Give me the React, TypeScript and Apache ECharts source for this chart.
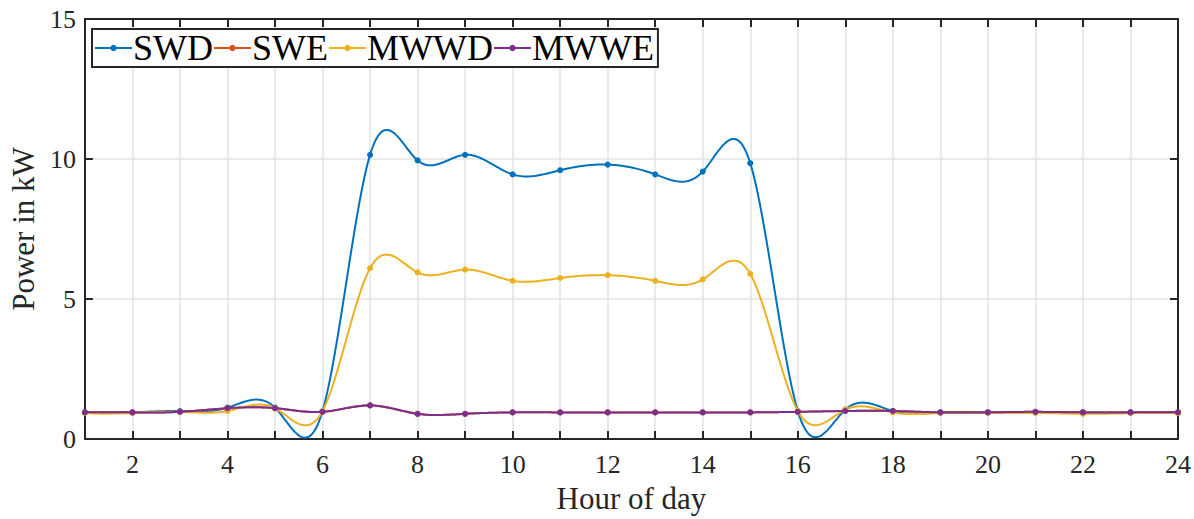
import React, { useEffect, useRef } from "react";
import * as echarts from "echarts";

const hours = [1, 2, 3, 4, 5, 6, 7, 8, 9, 10, 11, 12, 13, 14, 15, 16, 17, 18, 19, 20, 21, 22, 23, 24];
const swd = [0.95, 0.95, 1.0, 1.12, 1.12, 1.0, 10.15, 9.95, 10.15, 9.45, 9.6, 9.8, 9.45, 9.55, 9.85, 1.0, 1.05, 1.0, 0.95, 0.95, 0.95, 0.95, 0.95, 0.95];
const swe = [0.95, 0.95, 0.97, 1.1, 1.1, 0.97, 1.2, 0.9, 0.9, 0.95, 0.95, 0.95, 0.95, 0.95, 0.95, 0.97, 1.0, 1.0, 0.95, 0.95, 0.97, 0.95, 0.95, 0.95];
const mwwd = [0.93, 0.93, 0.97, 1.0, 1.1, 1.0, 6.1, 5.95, 6.05, 5.65, 5.75, 5.85, 5.65, 5.7, 5.9, 1.0, 1.05, 0.95, 0.93, 0.93, 0.93, 0.9, 0.92, 0.92];
const mwwe = [0.95, 0.95, 0.97, 1.1, 1.1, 0.97, 1.2, 0.9, 0.9, 0.95, 0.95, 0.95, 0.95, 0.95, 0.95, 0.97, 1.0, 1.0, 0.95, 0.95, 0.97, 0.95, 0.95, 0.95];
const seriesNames = ["SWD", "SWE", "MWWD", "MWWE"];
const seriesColors = ["#0072BD", "#D95319", "#EDB120", "#7E2F8E"];
const yTicks = [0, 5, 10, 15];

const FONT = "'Liberation Serif', 'Times New Roman', serif";
const AXIS = "#262626";

// Not-a-knot cubic spline second derivatives (uniform spacing of 1 hour)
function splineM(y: number[]): number[] {
  const n = y.length;
  const d: number[] = [];
  for (let i = 0; i < n; i++) d.push(i > 0 && i < n - 1 ? 6 * (y[i + 1] - 2 * y[i] + y[i - 1]) : 0);
  // unknowns M1..M(n-2)
  const m = n - 2;
  const a: number[] = [], b: number[] = [], c: number[] = [], r: number[] = [];
  for (let k = 0; k < m; k++) {
    const i = k + 1;
    if (k === 0) { a.push(0); b.push(6); c.push(0); }
    else if (k === m - 1) { a.push(0); b.push(6); c.push(0); }
    else { a.push(1); b.push(4); c.push(1); }
    r.push(d[i]);
  }
  for (let k = 1; k < m; k++) {
    const w = a[k] / b[k - 1];
    b[k] -= w * c[k - 1];
    r[k] -= w * r[k - 1];
  }
  const x: number[] = new Array(m).fill(0);
  x[m - 1] = r[m - 1] / b[m - 1];
  for (let k = m - 2; k >= 0; k--) x[k] = (r[k] - c[k] * x[k + 1]) / b[k];
  const M = [2 * x[0] - x[1], ...x, 2 * x[m - 1] - x[m - 2]];
  return M;
}

export default function App() {
  const ref = useRef<HTMLDivElement>(null);
  useEffect(() => {
    if (!ref.current) return;
    const chart = echarts.init(ref.current, null, { renderer: "svg" });
    const all = [swd, swe, mwwd, mwwe];
    const axisCommon = {
      axisLine: { show: true, onZero: false, lineStyle: { color: AXIS, width: 2 } },
      axisTick: { show: true, inside: true, length: 8, lineStyle: { color: AXIS, width: 2 } },
    };
    const curveSeries = seriesNames.map((name, si) => {
      const ys = all[si];
      const M = splineM(ys);
      return {
        name: name + " curve",
        type: "custom",
        clip: true,
        xAxisIndex: 0,
        yAxisIndex: 0,
        z: 2 + si * 2,
        data: hours.map((h, k) => [h, ys[k]]),
        encode: { x: 0, y: 1 },
        renderItem: (params: any, api: any) => {
          const i = params.dataIndex;
          if (i >= hours.length - 1) return null;
          const pts: number[][] = [];
          const steps = 24;
          for (let s = 0; s <= steps; s++) {
            const t = s / steps;
            const u = 1 - t;
            const v = u * ys[i] + t * ys[i + 1] + ((u * u * u - u) * M[i] + (t * t * t - t) * M[i + 1]) / 6;
            pts.push(api.coord([hours[i] + t * (hours[i + 1] - hours[i]), v]));
          }
          return {
            type: "polyline",
            shape: { points: pts },
            style: { stroke: seriesColors[si], lineWidth: 2, fill: "none" },
          };
        },
      };
    });
    const markerSeries = seriesNames.map((name, i) => ({
      name,
      type: "line",
      xAxisIndex: 0,
      yAxisIndex: 0,
      data: hours.map((h, k) => [h, all[i][k]]),
      symbol: "circle",
      symbolSize: 6,
      showSymbol: true,
      color: seriesColors[i],
      lineStyle: { color: seriesColors[i], width: 2, opacity: 0 },
      itemStyle: { color: seriesColors[i] },
      z: 3 + i * 2,
    }));
    chart.setOption({
      animation: false,
      backgroundColor: "#ffffff",
      grid: { left: 82, right: 16, top: 19, bottom: 79, containLabel: false },
      legend: {
        data: seriesNames,
        left: 92,
        top: 29,
        orient: "horizontal",
        itemGap: 0,
        itemWidth: 37,
        itemHeight: 8,
        padding: [1, 4, 1, 2],
        backgroundColor: "#ffffff",
        borderColor: AXIS,
        borderWidth: 2,
        borderRadius: 0,
        lineStyle: { width: 2, opacity: 1 },
        textStyle: { fontFamily: FONT, fontSize: 36, color: "#000000", padding: [0, 0, 0, -4] },
      },
      xAxis: [
        {
          type: "value",
          min: 1,
          max: 24,
          interval: 1,
          ...axisCommon,
          axisLabel: {
            fontFamily: FONT,
            fontSize: 26,
            color: AXIS,
            margin: 12,
            formatter: (v: number) => (v % 2 === 0 ? String(v) : ""),
          },
          splitLine: { show: true, lineStyle: { color: "#e3e3e3", width: 1.5 } },
          name: "Hour of day",
          nameLocation: "middle",
          nameGap: 44,
          nameTextStyle: { fontFamily: FONT, fontSize: 31, color: AXIS },
        },
        {
          type: "value",
          position: "top",
          min: 1,
          max: 24,
          interval: 1,
          ...axisCommon,
          axisLabel: { show: false },
          splitLine: { show: false },
        },
      ],
      yAxis: [
        {
          type: "value",
          min: yTicks[0],
          max: yTicks[yTicks.length - 1],
          interval: 5,
          ...axisCommon,
          axisLabel: { fontFamily: FONT, fontSize: 26, color: AXIS, margin: 9 },
          splitLine: { show: true, lineStyle: { color: "#e3e3e3", width: 1.5 } },
          name: "Power in kW",
          nameLocation: "middle",
          nameGap: 42,
          nameTextStyle: { fontFamily: FONT, fontSize: 31, color: AXIS },
        },
        {
          type: "value",
          position: "right",
          min: yTicks[0],
          max: yTicks[yTicks.length - 1],
          interval: 5,
          ...axisCommon,
          axisLabel: { show: false },
          splitLine: { show: false },
        },
      ],
      series: [...curveSeries, ...markerSeries],
    });
    return () => chart.dispose();
  }, []);
  return <div ref={ref} style={{ position: "fixed", left: 0, top: 0, width: 1194, height: 519 }} />;
}
